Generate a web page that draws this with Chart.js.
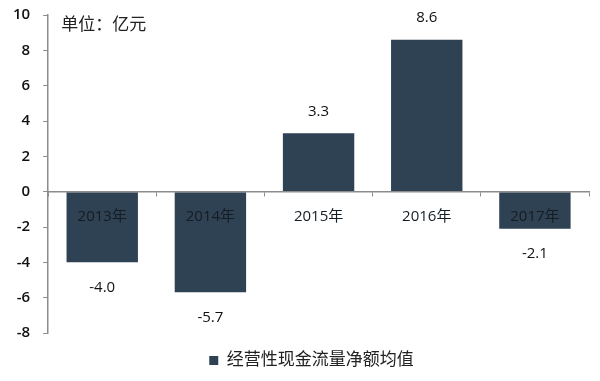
<!DOCTYPE html>
<html>
<head>
<meta charset="utf-8">
<script src="https://cdn.jsdelivr.net/npm/chart.js@4/dist/chart.umd.min.js"></script>
<style>
html,body{margin:0;padding:0;background:#fff;}
#wrap{width:600px;height:381px;position:relative;}
</style>
</head>
<body>
<div id="wrap"><canvas id="c" width="600" height="381"></canvas></div>
<script>
const categories = ['2013年', '2014年', '2015年', '2016年', '2017年'];
const values = [-4.0, -5.7, 3.3, 8.6, -2.1];
const seriesName = '经营性现金流量净额均值';
const unitLabel = '单位：亿元';
const yTicks = { min: -8, max: 10, step: 2 };

const FONT = '"Open Sans", "Noto Sans CJK SC", sans-serif';
const BAR = '#2f4254';
const AXIS = '#8c8c8c';

const valueLabels = {
  id: 'valueLabels',
  afterDatasetsDraw(chart) {
    const ctx = chart.ctx;
    const meta = chart.getDatasetMeta(0);
    ctx.save();
    ctx.font = '15px ' + FONT;
    ctx.fillStyle = '#111';
    ctx.textAlign = 'center';
    ctx.textBaseline = 'middle';
    meta.data.forEach((bar, i) => {
      const v = chart.data.datasets[0].data[i];
      const y = v >= 0 ? bar.y - 22 : bar.y + 25;
      ctx.fillText(v.toFixed(1), bar.x, y);
    });
    ctx.restore();
  }
};

const unitText = {
  id: 'unitText',
  afterDraw(chart) {
    const ctx = chart.ctx;
    ctx.save();
    ctx.font = '17px ' + FONT;
    ctx.fillStyle = '#222';
    ctx.textAlign = 'left';
    ctx.textBaseline = 'middle';
    ctx.fillText(unitLabel, chart.chartArea.left + 13, 25);
    ctx.restore();
  }
};

const legendShift = {
  id: 'legendShift',
  afterLayout(chart) {
    if (chart.legend) {
      chart.legend.left += 17;
      chart.legend.right += 17;
    }
  }
};

new Chart(document.getElementById('c'), {
  type: 'bar',
  data: {
    labels: categories,
    datasets: [{
      label: seriesName,
      data: values,
      backgroundColor: BAR,
      borderWidth: 0,
      barPercentage: 0.66,
      categoryPercentage: 1
    }]
  },
  options: {
    responsive: false,
    animation: false,
    layout: { padding: { top: 15, right: 11, left: 0, bottom: 2 } },
    plugins: {
      legend: {
        position: 'bottom',
        labels: {
          boxWidth: 9,
          boxHeight: 9,
          color: '#222',
          font: { size: 17, family: FONT },
          padding: 19
        }
      },
      tooltip: { enabled: false }
    },
    scales: {
      x: {
        position: { y: 0 },
        grid: { drawOnChartArea: false, tickLength: 4, color: AXIS, offset: true },
        border: { color: AXIS, width: 1.5, z: 1 },
        ticks: { z: 1, color: '#141c24', font: { size: 15, family: FONT }, padding: 12 }
      },
      y: {
        min: yTicks.min,
        max: yTicks.max,
        afterFit(scale) {
          scale.paddingTop = 0;
          scale.paddingBottom = 0;
        },
        grid: { drawOnChartArea: false, tickLength: 5, color: AXIS },
        border: { color: AXIS, width: 1.5 },
        ticks: {
          stepSize: yTicks.step,
          color: '#111',
          font: { size: 15, family: FONT, weight: '600' },
          padding: 13
        }
      }
    }
  },
  plugins: [valueLabels, unitText, legendShift]
});
</script>
</body>
</html>
